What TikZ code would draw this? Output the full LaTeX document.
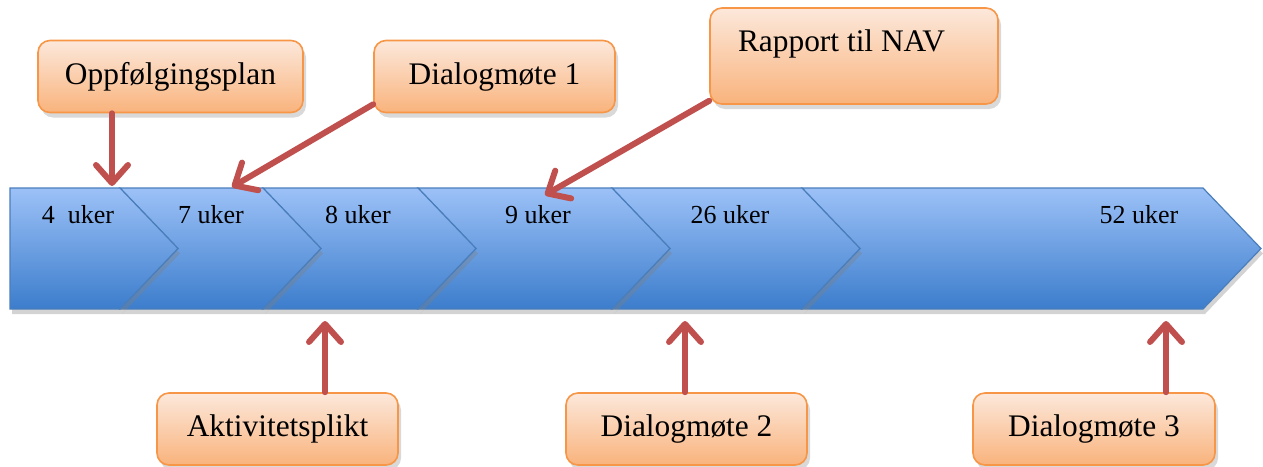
\documentclass[tikz,border=0pt]{standalone}
\usepackage{fontspec}
\setmainfont{Liberation Serif}
\usepackage{xcolor}
\usepackage{tikz}
\usetikzlibrary{arrows.meta, positioning, shadows}
\definecolor{barline}{HTML}{4A7EBB}
\definecolor{bartop}{HTML}{9CC1F7}
\definecolor{barbottom}{HTML}{3C7DCC}
\definecolor{boxline}{HTML}{F79646}
\definecolor{boxtop}{HTML}{FCE8DB}
\definecolor{boxbottom}{HTML}{F9B37C}
\definecolor{linkred}{HTML}{C0504D}
\tikzset{ % global config
    x=0.5pt, y=-0.5pt, % one unit is one pixel of the sketch, y runs downwards
    chevron/.style={draw=barline, line width=0.6pt, top color=bartop, bottom color=barbottom,
        drop shadow={opacity=0.35, shadow xshift=1pt, shadow yshift=-2.5pt}}, % the blue week blocks
    week/.style={font=\fontsize{13}{15}\selectfont, inner sep=0pt}, % text on the blocks
    callout/.style={draw=boxline, line width=0.8pt, rounded corners=6pt, top color=boxtop,
        bottom color=boxbottom, minimum height=36pt, inner sep=2pt,
        font=\fontsize{15.7}{19}\selectfont,
        drop shadow={opacity=0.3, shadow xshift=1.5pt, shadow yshift=-2.5pt}}, % orange boxes
    link/.style={draw=linkred, line width=3pt, line cap=round,
        -{Straight Barb[length=9pt, width=16pt, round]}}, % red pointers
}
\begin{document}
\begin{tikzpicture}
	\useasboundingbox (0,0) rectangle (1263,466);

	% the time line, last block first
	\path[chevron] (802,188) -- (1203,188) -- (1261,248.5) -- (1203,309) -- (802,309) -- (860,248.5) -- cycle;
	\path[chevron] (612,188) -- (802,188) -- (860,248.5) -- (802,309) -- (612,309) -- (670,248.5) -- cycle;
	\path[chevron] (418,188) -- (612,188) -- (670,248.5) -- (612,309) -- (418,309) -- (476,248.5) -- cycle;
	\path[chevron] (263,188) -- (418,188) -- (476,248.5) -- (418,309) -- (263,309) -- (321,248.5) -- cycle;
	\path[chevron] (120,188) -- (263,188) -- (321,248.5) -- (263,309) -- (120,309) -- (178,248.5) -- cycle;
	\path[chevron] (10,188) -- (120,188) -- (178,248.5) -- (120,309) -- (10,309) -- cycle;

	\node[week] (w4) at (78,215) {4\ \ uker};
	\node[week] (w7) at (211,215) {7 uker};
	\node[week] (w8) at (358,215) {8 uker};
	\node[week] (w9) at (538,215) {9 uker};
	\node[week] (w26) at (730,215) {26 uker};
	\node[week] (w52) at (1139,215) {52 uker};

	% boxes
	\node[callout, minimum width=132.5pt] (oppf) at (170.5,76.5) {Oppfølgingsplan};
	\node[callout, minimum width=120.5pt] (dlg1) at (494.5,76.5) {Dialogmøte 1};
	\node[callout, minimum width=144pt, minimum height=48pt, text height=11pt, text depth=16pt] (rapport) at (854,56) {Rapport til NAV\hspace*{12.5pt}};
	\node[callout, minimum width=120.5pt] (aktiv) at (277.5,429) {Aktivitetsplikt};
	\node[callout, minimum width=120.5pt] (dlg2) at (686.5,429) {Dialogmøte 2};
	\node[callout, minimum width=121pt] (dlg3) at (1094,429) {Dialogmøte 3};

	% where the pointers end
	\coordinate (t4) at (112,186);
	\coordinate (t7) at (232,187);
	\coordinate (t9) at (545,195);
	\coordinate (t8) at (325,321);
	\coordinate (t26) at (685,321);
	\coordinate (t52) at (1166,321);

	\draw[link] (oppf.south -| t4) -- (t4);
	\draw[link] ([yshift=4.5pt]dlg1.south west) -- (t7);
	\draw[link] ([yshift=2pt]rapport.south west) -- (t9);
	\draw[link] (aktiv.north -| t8) -- (t8);
	\draw[link] (dlg2.north -| t26) -- (t26);
	\draw[link] (dlg3.north -| t52) -- (t52);

\end{tikzpicture}
\end{document}
